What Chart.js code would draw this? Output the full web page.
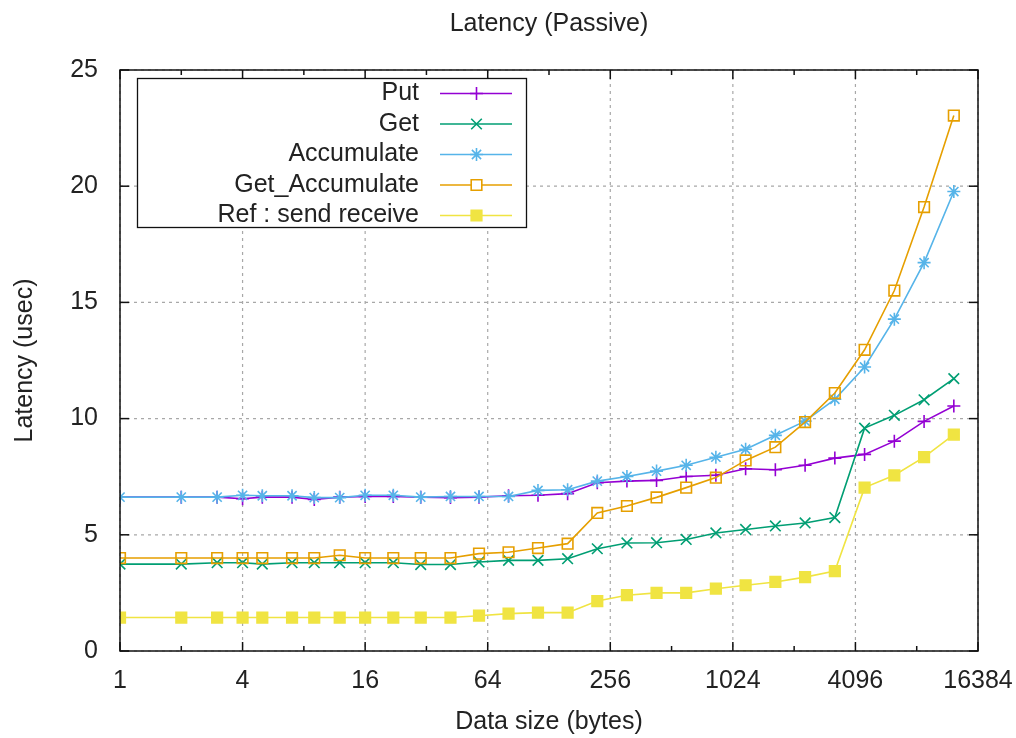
<!DOCTYPE html>
<html><head><meta charset="utf-8">
<script src="https://cdn.jsdelivr.net/npm/chart.js@4.4.1/dist/chart.umd.min.js"></script>
<style>html,body{margin:0;padding:0;background:#fff;}canvas{display:block}</style>
</head><body>
<canvas id="c" width="1016" height="738"></canvas>
<script>
const sizes = [1,2,3,4,5,7,9,12,16,22,30,42,58,81,113,158,221,309,432,604,845,1183,1656,2318,3245,4543,6360,8904,12465];
const put = [6.62,6.62,6.62,6.55,6.62,6.62,6.52,6.62,6.65,6.65,6.62,6.60,6.62,6.68,6.70,6.77,7.24,7.31,7.34,7.51,7.56,7.84,7.80,7.99,8.30,8.46,9.03,9.88,10.54];
const get = [3.74,3.74,3.80,3.80,3.74,3.80,3.80,3.80,3.80,3.80,3.72,3.72,3.83,3.90,3.90,3.97,4.40,4.65,4.66,4.80,5.08,5.23,5.38,5.51,5.74,9.59,10.14,10.81,11.72];
const accumulate = [6.62,6.62,6.62,6.70,6.68,6.68,6.60,6.60,6.70,6.70,6.62,6.65,6.65,6.65,6.91,6.94,7.31,7.51,7.74,7.99,8.34,8.68,9.28,9.89,10.83,12.22,14.28,16.71,19.77];
const getAccumulate = [4.00,4.00,4.00,4.00,4.00,4.00,4.00,4.12,4.00,4.00,4.00,4.00,4.19,4.25,4.43,4.62,5.94,6.24,6.61,7.03,7.46,8.20,8.77,9.85,11.10,12.96,15.51,19.10,23.04];
const refSendRecv = [1.44,1.44,1.44,1.44,1.44,1.44,1.44,1.44,1.44,1.44,1.44,1.44,1.52,1.61,1.65,1.65,2.15,2.40,2.50,2.50,2.68,2.83,2.97,3.18,3.44,7.03,7.56,8.34,9.31];
const seriesNames = ['Put','Get','Accumulate','Get_Accumulate','Ref : send receive'];
const xMajorTicks = [1,4,16,64,256,1024,4096,16384];
const xMinorTicks = [2,8,32,128,512,2048,8192];
const yTicks = [0,5,10,15,20,25];

const FONT = '"Liberation Sans", Arial, sans-serif';
const TEXT = '#222';

function pts(arr){ return sizes.map((s,i)=>({x:s,y:arr[i]})); }

const styles = [
  {color:'#9400d3', pointStyle:'cross', radius:6.5, fill:'#9400d3'},
  {color:'#009e73', pointStyle:'crossRot', radius:7.5, fill:'#009e73'},
  {color:'#56b4e9', pointStyle:'star', radius:6.5, fill:'#56b4e9'},
  {color:'#e69f00', pointStyle:'rect', radius:7.5, fill:'rgba(255,255,255,0)'},
  {color:'#f0e442', pointStyle:'rect', radius:7.5, fill:'#f0e442'}
];
const allSeries = [put,get,accumulate,getAccumulate,refSendRecv];

const datasets = allSeries.map((arr,i)=>({
  label: seriesNames[i],
  data: pts(arr),
  borderColor: styles[i].color,
  backgroundColor: styles[i].fill,
  borderWidth: 1.6,
  pointStyle: styles[i].pointStyle,
  pointRadius: styles[i].radius,
  pointHoverRadius: styles[i].radius,
  pointBorderWidth: 1.6,
  pointBorderColor: styles[i].color,
  pointBackgroundColor: styles[i].fill,
  tension: 0,
  fill: false,
  order: 5 - i
}));

const framePlugin = {
  id: 'gnuframe',
  beforeDatasetsDraw(chart){
    const {ctx, chartArea:a, scales:{x,y}} = chart;
    ctx.save();
    ctx.strokeStyle = '#a8a8a8';
    ctx.lineWidth = 1.2;
    ctx.setLineDash([3,4]);
    xMajorTicks.forEach(v=>{
      const px = x.getPixelForValue(v);
      ctx.beginPath(); ctx.moveTo(px,a.top); ctx.lineTo(px,a.bottom); ctx.stroke();
    });
    yTicks.forEach(v=>{
      const py = y.getPixelForValue(v);
      ctx.beginPath(); ctx.moveTo(a.left,py); ctx.lineTo(a.right,py); ctx.stroke();
    });
    ctx.restore();
  },
  afterDatasetsDraw(chart){
    const {ctx, chartArea:a, scales:{x,y}} = chart;
    ctx.save();
    ctx.strokeStyle = '#111';
    ctx.lineWidth = 1.5;
    ctx.setLineDash([]);
    ctx.strokeRect(a.left, a.top, a.right-a.left, a.bottom-a.top);
    const tick = (x1,y1,x2,y2)=>{ctx.beginPath();ctx.moveTo(x1,y1);ctx.lineTo(x2,y2);ctx.stroke();};
    xMajorTicks.forEach(v=>{const px=x.getPixelForValue(v); tick(px,a.bottom,px,a.bottom-9); tick(px,a.top,px,a.top+9);});
    xMinorTicks.forEach(v=>{const px=x.getPixelForValue(v); tick(px,a.bottom,px,a.bottom-5); tick(px,a.top,px,a.top+5);});
    yTicks.forEach(v=>{const py=y.getPixelForValue(v); tick(a.left,py,a.left+9,py); tick(a.right,py,a.right-9,py);});
    ctx.restore();
  },
  afterDraw(chart){
    const ctx = chart.ctx;
    ctx.save();
    const L=137.5, T=78.5, W=389, H=149;
    ctx.fillStyle='#fff'; ctx.fillRect(L,T,W,H);
    ctx.strokeStyle='#111'; ctx.lineWidth=1.3; ctx.strokeRect(L,T,W,H);
    chart.data.datasets.forEach((ds,i)=>{
      const yy = 93.5 + i*30.5;
      ctx.font = '25px ' + FONT;
      ctx.textAlign='right'; ctx.textBaseline='middle'; ctx.fillStyle=TEXT;
      ctx.fillText(ds.label, 419, yy);
      ctx.strokeStyle = ds.borderColor; ctx.lineWidth = 1.6;
      ctx.beginPath(); ctx.moveTo(440,yy); ctx.lineTo(512,yy); ctx.stroke();
      ctx.fillStyle = ds.pointBackgroundColor === 'rgba(255,255,255,0)' ? '#fff' : ds.pointBackgroundColor;
      ctx.strokeStyle = ds.pointBorderColor;
      Chart.helpers.drawPoint(ctx, {pointStyle: ds.pointStyle, radius: ds.pointRadius, borderWidth: ds.pointBorderWidth, rotation:0}, 476.5, yy);
    });
    ctx.restore();
  }
};

new Chart(document.getElementById('c'), {
  type: 'line',
  data: { datasets },
  plugins: [framePlugin],
  options: {
    responsive: false,
    animation: false,
    devicePixelRatio: 1,
    layout: { padding: { left: 0, right: 38, top: 0, bottom: 0 } },
    plugins: {
      legend: { display: false },
      tooltip: { enabled: false },
      title: {
        display: true, text: 'Latency (Passive)', fullSize: false,
        color: TEXT, font: { family: FONT, size: 25, weight: 'normal' },
        padding: { top: 9, bottom: 31 }
      }
    },
    scales: {
      x: {
        type: 'logarithmic', min: 1, max: 16384,
        afterBuildTicks: s => { s.ticks = xMajorTicks.map(v=>({value:v})); },
        afterFit: s => { s.height = 87; s.paddingRight = 0; s.paddingLeft = 0; },
        grid: { display: false, drawTicks: false },
        border: { display: false },
        ticks: { color: TEXT, font: { family: FONT, size: 25 }, padding: 15, maxRotation: 0, autoSkip: false,
                 callback: v => String(v) },
        title: { display: true, text: 'Data size (bytes)', color: TEXT, font: { family: FONT, size: 25 }, padding: { top: 0, bottom: 1 } }
      },
      y: {
        type: 'linear', min: 0, max: 25,
        afterBuildTicks: s => { s.ticks = yTicks.map(v=>({value:v})); },
        afterFit: s => { s.width = 120; },
        grid: { display: false, drawTicks: false },
        border: { display: false },
        ticks: { color: TEXT, font: { family: FONT, size: 25 }, padding: 22, callback: v => String(v) },
        title: { display: true, text: 'Latency (usec)', color: TEXT, font: { family: FONT, size: 25 }, padding: { top: 10, bottom: 0 } }
      }
    }
  }
});
</script>
</body></html>
